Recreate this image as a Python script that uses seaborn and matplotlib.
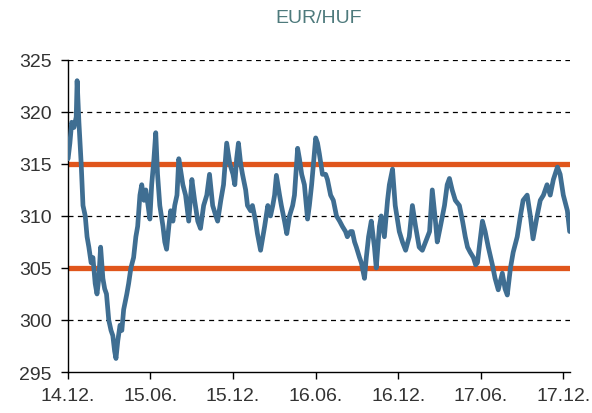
import pandas as pd
import matplotlib
matplotlib.use("Agg")
import matplotlib.pyplot as plt
import seaborn as sns

# EUR/HUF (roughly weekly points)
dates = [
    "2014-12-01", "2014-12-05", "2014-12-09", "2014-12-14", "2014-12-19", "2014-12-21",
    "2014-12-25", "2014-12-30", "2015-01-03", "2015-01-08", "2015-01-12", "2015-01-16",
    "2015-01-21", "2015-01-25", "2015-01-30", "2015-02-03", "2015-02-07", "2015-02-11",
    "2015-02-16", "2015-02-20", "2015-02-24", "2015-03-01", "2015-03-06", "2015-03-10",
    "2015-03-14", "2015-03-17", "2015-03-21", "2015-03-26", "2015-03-30", "2015-04-03",
    "2015-04-10", "2015-04-14", "2015-04-19", "2015-04-25", "2015-04-30", "2015-05-04",
    "2015-05-09", "2015-05-13", "2015-05-18", "2015-05-22", "2015-05-27", "2015-05-31",
    "2015-06-04", "2015-06-09", "2015-06-13", "2015-06-17", "2015-06-22", "2015-06-29",
    "2015-07-03", "2015-07-07", "2015-07-12", "2015-07-16", "2015-07-21", "2015-07-25",
    "2015-07-30", "2015-08-03", "2015-08-05", "2015-08-12", "2015-08-18", "2015-08-25",
    "2015-09-01", "2015-09-07", "2015-09-14", "2015-09-20", "2015-09-27", "2015-10-04",
    "2015-10-10", "2015-10-17", "2015-10-24", "2015-10-28", "2015-11-04", "2015-11-10",
    "2015-11-17", "2015-11-24", "2015-12-01", "2015-12-05", "2015-12-09", "2015-12-13",
    "2015-12-18", "2015-12-22", "2015-12-29", "2016-01-02", "2016-01-09", "2016-01-13",
    "2016-01-20", "2016-01-24", "2016-01-31", "2016-02-05", "2016-02-09", "2016-02-16",
    "2016-02-22", "2016-02-27", "2016-03-02", "2016-03-06", "2016-03-13", "2016-03-17",
    "2016-03-24", "2016-03-29", "2016-04-04", "2016-04-11", "2016-04-15", "2016-04-22",
    "2016-04-26", "2016-05-01", "2016-05-07", "2016-05-14", "2016-05-18", "2016-05-23",
    "2016-05-27", "2016-06-01", "2016-06-05", "2016-06-09", "2016-06-16", "2016-06-23",
    "2016-06-27", "2016-07-04", "2016-07-10", "2016-07-17", "2016-07-24", "2016-07-30",
    "2016-08-06", "2016-08-10", "2016-08-17", "2016-08-21", "2016-08-26", "2016-08-30",
    "2016-09-06", "2016-09-10", "2016-09-17", "2016-09-21", "2016-09-26", "2016-10-02",
    "2016-10-09", "2016-10-13", "2016-10-20", "2016-10-24", "2016-10-31", "2016-11-07",
    "2016-11-11", "2016-11-18", "2016-11-24", "2016-12-03", "2016-12-10", "2016-12-17",
    "2016-12-25", "2017-01-01", "2017-01-08", "2017-01-16", "2017-01-23", "2017-01-30",
    "2017-02-08", "2017-02-14", "2017-02-21", "2017-02-25", "2017-03-04", "2017-03-13",
    "2017-03-19", "2017-03-24", "2017-03-30", "2017-04-06", "2017-04-15", "2017-04-22",
    "2017-04-28", "2017-05-03", "2017-05-09", "2017-05-16", "2017-05-21", "2017-05-25",
    "2017-05-29", "2017-06-05", "2017-06-11", "2017-06-18", "2017-06-27", "2017-07-03",
    "2017-07-10", "2017-07-19", "2017-07-25", "2017-07-30", "2017-08-06", "2017-08-12",
    "2017-08-21", "2017-08-28", "2017-09-03", "2017-09-12", "2017-09-19", "2017-09-25",
    "2017-10-04", "2017-10-11", "2017-10-18", "2017-10-26", "2017-11-02", "2017-11-09",
    "2017-11-18", "2017-11-24", "2017-12-01", "2017-12-10", "2017-12-15",
]
eurhuf = [
    315.5, 317, 319, 318.5, 319.5, 323,
    319, 315, 311, 310, 308, 307,
    305.5, 306, 303.5, 302.5, 304, 307,
    304, 303, 302.5, 300, 299, 298.5,
    297, 296.3, 298, 299.5, 299, 301,
    302.5, 303.5, 305, 306, 308, 309,
    312, 313, 311.5, 312.5, 311, 309.7,
    313, 315.5, 318, 314, 311, 309,
    307.5, 306.8, 309, 310.5, 309.5, 311,
    312, 315.5, 315, 313, 312, 309.5,
    313.5, 311.5, 309.5, 308.8, 311, 312,
    314, 311, 310, 309.5, 311.5, 313,
    317, 315, 314, 313, 315.5, 317,
    315, 314, 312.5, 311, 310.5, 311,
    309.5, 308.3, 306.7, 308, 309, 311,
    310, 311, 312, 313.9, 312, 311,
    309.5, 308.3, 310, 311, 312, 316.5,
    315.5, 314, 313, 309.7, 311, 313,
    315, 317.5, 317, 316, 314, 314,
    313.5, 312, 311.5, 310, 309.5, 309,
    308.5, 308, 308.5, 308.5, 307.5, 307,
    306, 305.5, 304, 306, 308, 309.5,
    307, 305, 309, 310, 308, 311.5,
    313, 314.5, 311, 308.5, 307.5, 306.7,
    308, 311, 309, 307, 306.7, 307.5,
    308.5, 312.5, 309.5, 307.5, 309, 311,
    313, 313.6, 312.5, 311.5, 311, 309.5,
    308, 307, 306.5, 306, 305.3, 305.5,
    307, 309.5, 308.5, 307, 305.3, 304,
    302.9, 304.5, 303, 302.4, 305, 306.5,
    308, 310, 311.5, 312, 310, 307.8,
    310, 311.5, 312, 313, 312, 313.5,
    314.7, 314, 312, 310.5, 308.5,
]
band_low = 305
band_high = 315
tick_dates = ["2014-12-01", "2015-06-01", "2015-12-01", "2016-06-01",
              "2016-12-01", "2017-06-01", "2017-12-01"]
tick_labels = ["14.12.", "15.06.", "15.12.", "16.06.", "16.12.", "17.06.", "17.12."]
y_ticks = [295, 300, 305, 310, 315, 320, 325]

df = pd.DataFrame({"date": pd.to_datetime(dates), "rate": eurhuf})

sns.set_style("white")
plt.rcParams["font.family"] = ["Liberation Sans", "DejaVu Sans"]

fig = plt.figure(figsize=(5.92, 4.14), dpi=100)
ax = fig.add_axes([0.115, 0.099, 0.848, 0.754])

# dashed gridlines
for y in y_ticks[1:]:
    ax.axhline(y, color="black", linestyle=(0, (4, 3.5)), linewidth=0.9, zorder=1)

sns.lineplot(data=df, x="date", y="rate", color="#3f6e92", linewidth=3.4, ax=ax, zorder=3)

ax.axhline(band_high, color="#e0561c", linewidth=3.8, zorder=2)
ax.axhline(band_low, color="#e0561c", linewidth=3.8, zorder=2)

ax.set_ylim(295, 325)
ax.set_xlim(pd.Timestamp("2014-12-01"), pd.Timestamp("2017-12-16"))
ax.set_yticks(y_ticks)
ax.set_xticks(pd.to_datetime(tick_dates))
ax.set_xticklabels(tick_labels)
ax.set_xlabel("")
ax.set_ylabel("")

for side in ["top", "right"]:
    ax.spines[side].set_visible(False)
for side in ["left", "bottom"]:
    ax.spines[side].set_color("black")
    ax.spines[side].set_linewidth(1.0)

ax.tick_params(axis="both", direction="out", length=5, width=1, color="black",
               labelsize=14, labelcolor="#333333", left=True, bottom=True)
ax.tick_params(axis="y", pad=7)
ax.tick_params(axis="x", pad=6)

ax.set_title("EUR/HUF", fontsize=14, color="#4e7a7c", pad=27)

fig.savefig("out.png", dpi=100, facecolor="white")
